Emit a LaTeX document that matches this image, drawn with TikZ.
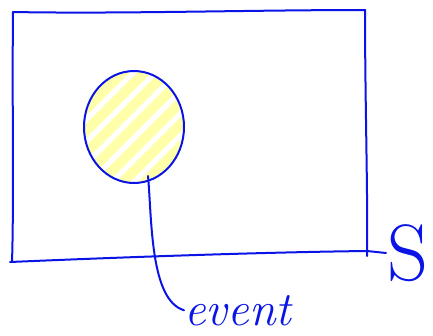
\documentclass[tikz,border=0pt]{standalone}
\usetikzlibrary{calc,shapes.geometric}
\definecolor{ink}{RGB}{10,20,230}
\definecolor{hl}{RGB}{255,255,170}
\tikzset{
  pen/.style={draw=ink, line width=2pt, line cap=round, line join=round},
  hatch/.style={draw=hl, line width=10pt, line cap=round},
  lbl/.style={text=ink, inner sep=0pt, font=\itshape\fontsize{48}{48}\selectfont}
}
\begin{document}
\begin{tikzpicture}[x=1pt,y=-1pt]
\useasboundingbox (0,0) rectangle (433,335);
% event set (circle) with hatching
\coordinate (c) at (134,127);
\begin{scope}
  \clip (c) ellipse [x radius=50, y radius=56];
  \foreach \i in {-4,...,4}{
    \draw[hatch] ($(c)+(\i*22-60,60)$) -- ($(c)+(\i*22+60,-60)$);
  }
\end{scope}
\node[pen, ellipse, minimum width=100, minimum height=112, inner sep=0pt] (ev) at (c) {};
% sample space rectangle
\coordinate (tl) at (13,12);
\coordinate (tr) at (365,10);
\coordinate (br) at (367,251);
\coordinate (bl) at (12,262);
\draw[pen] (tl) .. controls (120,14) and (250,10) .. (tr);
\draw[pen] (tl) .. controls (12,100) and (14,200) .. (bl);
\draw[pen] (tr) .. controls (365,100) and (368,200) .. (367,256);
\draw[pen] (10,262) .. controls (150,256) and (280,252) .. (br) -- (386,253);
% labels
\node[lbl, anchor=base west] (evt) at (184,325) {event};
\node[text=ink, inner sep=0pt, font=\fontsize{80}{80}\selectfont, anchor=base west] (S) at (387,280) {S};
% connector
\draw[pen] (ev.south) ++(14,-8) coordinate (st) .. controls (152,220) and (150,300) .. (evt.west);
\end{tikzpicture}
\end{document}
